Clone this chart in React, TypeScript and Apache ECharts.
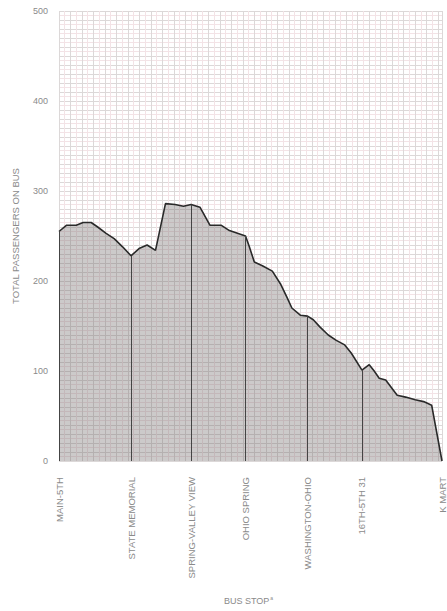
import React, { useEffect, useRef } from "react";
import * as echarts from "echarts";

// Position along route (0–100) and total passengers on bus
const routePos = [0, 2.0, 4.5, 6.3, 8.4, 10.1, 12.3, 14.4, 16.6, 18.8, 20.9, 23.0, 25.2, 27.8, 30.3, 32.5, 34.5, 36.8, 39.4, 42.3, 44.5, 46.6, 48.7, 49.7, 51.0, 53.1, 55.7, 57.8, 59.5, 60.8, 63.0, 64.9, 66.4, 68.1, 70.3, 72.4, 74.6, 76.3, 79.1, 81.0, 82.3, 83.6, 85.3, 88.3, 90.5, 93.0, 95.2, 97.3, 100];
const passengers = [255, 262, 262, 265, 265, 260, 253, 247, 238, 228, 236, 240, 234, 286, 285, 283, 285, 282, 262, 262, 256, 253, 250, 238, 221, 217, 211, 197, 182, 170, 162, 161, 157, 149, 140, 134, 129, 120, 101, 107, 100, 92, 90, 73, 71, 68, 66, 62, 0];

// Labelled bus stops
const stopNames = ["MAIN-5TH", "STATE MEMORIAL", "SPRING-VALLEY VIEW", "OHIO SPRING", "WASHINGTON-OHIO", "16TH-5TH 31", "K MART"];
const stopPos = [0, 18.8, 34.5, 48.7, 64.9, 79.1, 100];

const yTickLabels = [0, 100, 200, 300, 400, 500];

export default function App() {
  const ref = useRef<HTMLDivElement>(null);
  useEffect(() => {
    if (!ref.current) return;
    const chart = echarts.init(ref.current, null, { renderer: "svg" });
    const font = "Liberation Sans, Arial, sans-serif";
    const textColor = "#8a8a8a";
    const lineData = routePos.map((x, i) => [x, passengers[i]]);
    const stopLines = stopPos
      .map((x) => {
        const idx = routePos.indexOf(x);
        const y = idx >= 0 ? passengers[idx] : 0;
        return [{ coord: [x, 0] }, { coord: [x, y] }];
      })
      .filter((d) => (d[1].coord[1] as number) > 0);

    chart.setOption({
      animation: false,
      backgroundColor: "#ffffff",
      grid: { left: 59, right: 0, top: 11, bottom: 150, containLabel: false },
      xAxis: [
        {
          type: "value",
          min: 0,
          max: 100,
          interval: 3,
          axisLine: { show: false },
          axisTick: { show: false },
          axisLabel: { show: false },
          splitLine: { show: true, lineStyle: { color: "#dcd8d8", width: 1 } },
          minorTick: { show: false, splitNumber: 2 },
          minorSplitLine: { show: true, lineStyle: { color: "#f3e3e6", width: 1 } },
        },
        {
          type: "value",
          min: 0,
          max: 100,
          position: "bottom",
          axisLine: { show: false },
          axisTick: { show: false },
          splitLine: { show: false },
          axisLabel: {
            customValues: stopPos,
            rotate: 90,
            margin: 16,
            color: textColor,
            fontSize: 9.5,
            fontFamily: font,
            formatter: (v: number) => {
              const i = stopPos.indexOf(v);
              return i >= 0 ? stopNames[i] : "";
            },
          },
        },
      ],
      yAxis: {
        type: "value",
        min: 0,
        max: 500,
        interval: 10,
        name: "TOTAL PASSENGERS ON BUS",
        nameLocation: "middle",
        nameRotate: 90,
        nameGap: 39,
        nameTextStyle: { color: textColor, fontSize: 9.5, fontFamily: font },
        axisLine: { show: false },
        axisTick: { show: false },
        axisLabel: {
          margin: 11,
          color: textColor,
          fontSize: 9,
          fontFamily: font,
          formatter: (v: number) => (yTickLabels.indexOf(v) >= 0 ? String(v) : ""),
        },
        splitLine: { show: true, lineStyle: { color: "#dcd8d8", width: 1 } },
        minorTick: { show: false, splitNumber: 2 },
        minorSplitLine: { show: true, lineStyle: { color: "#f3e3e6", width: 1 } },
      },
      series: [
        {
          type: "line",
          xAxisIndex: 0,
          data: lineData,
          showSymbol: false,
          symbol: "none",
          lineStyle: { color: "#2a2a2a", width: 1.6 },
          areaStyle: { color: "rgba(110,104,104,0.5)" },
          markLine: {
            silent: true,
            symbol: "none",
            label: { show: false },
            lineStyle: { color: "#444", width: 1, type: "solid" },
            data: stopLines,
          },
        },
      ],
      graphic: [
        {
          type: "text",
          left: 224,
          top: 595,
          style: {
            text: "BUS STOP{sup|a}",
            fill: textColor,
            font: `9px ${font}`,
            rich: { sup: { fontSize: 5, verticalAlign: "top", fill: textColor, padding: [0, 0, 6, 1] } },
          },
        },
      ],
    });
    return () => chart.dispose();
  }, []);
  return <div ref={ref} style={{ position: "fixed", left: 0, top: 0, width: 447, height: 611 }} />;
}
